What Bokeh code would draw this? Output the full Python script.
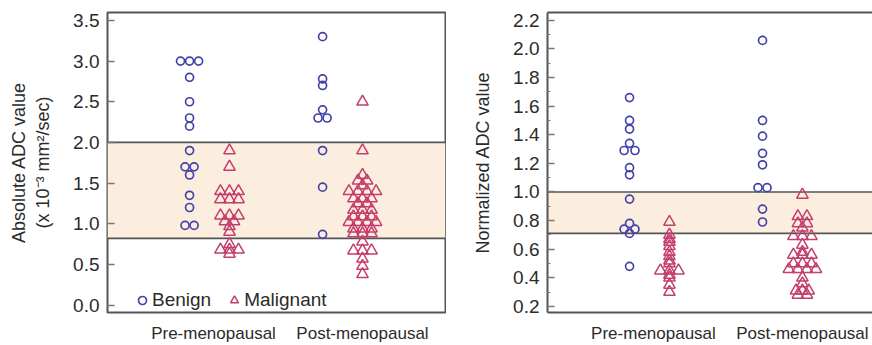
from bokeh.plotting import figure
from bokeh.layouts import row
from bokeh.models import (BoxAnnotation, Span, Legend, LegendItem, FixedTicker,
                          PrintfTickFormatter, LinearAxis, ColumnDataSource, Range1d)
from bokeh.embed import file_html
from bokeh.resources import INLINE

# ---------------- data ----------------
groups = ["Pre-menopausal", "Post-menopausal"]
series_names = ["Benign", "Malignant"]

# Absolute ADC value (x 10^-3 mm2/sec)
abs_pre_benign = [3.0, 3.0, 3.0, 2.8, 2.5, 2.3, 2.2, 1.9, 1.7, 1.7, 1.6, 1.35, 1.2, 0.98, 0.98]
abs_pre_benign_slot = [-1, 0, 1, 0, 0, 0, 0, 0, -0.5, 0.5, 0, 0, 0, -0.5, 0.5]
abs_pre_malig = [1.9, 1.7, 1.4, 1.4, 1.4, 1.3, 1.3, 1.3, 1.1, 1.1, 1.1, 1.03, 1.03, 0.97,
                 0.9, 0.75, 0.68, 0.68, 0.68, 0.63]
abs_pre_malig_slot = [0, 0, -1, 0, 1, -1, 0, 1, -1, 0, 1, -0.5, 0.5, 0, 0, 0, -1, 0, 1, 0]
abs_post_benign = [3.3, 2.78, 2.7, 2.4, 2.3, 2.3, 1.9, 1.45, 0.87]
abs_post_benign_slot = [0, 0, 0, 0, -0.5, 0.5, 0, 0, 0]
abs_post_malig = [2.5, 1.9, 1.6, 1.53, 1.53, 1.47, 1.4, 1.4, 1.4, 1.4, 1.31, 1.31, 1.31,
                  1.25, 1.25, 1.17, 1.17, 1.17, 1.09, 1.09, 1.09, 1.02, 1.02, 1.02, 1.02,
                  0.94, 0.94, 0.94, 0.88, 0.88, 0.88, 0.78, 0.67, 0.67, 0.67, 0.57, 0.48, 0.38]
abs_post_malig_slot = [0, 0, 0, -0.5, 0.5, 0, -1.5, -0.5, 0.5, 1.5, -1, 0, 1, -0.5, 0.5,
                       -1, 0, 1, -1, 0, 1, -1.5, -0.5, 0.5, 1.5, -1, 0, 1, -1, 0, 1,
                       0, -1, 0, 1, 0, 0, 0]
abs_band = [0.82, 2.0]
abs_ticks = [0.0, 0.5, 1.0, 1.5, 2.0, 2.5, 3.0, 3.5]

# Normalized ADC value
norm_pre_benign = [1.66, 1.50, 1.44, 1.34, 1.29, 1.29, 1.17, 1.12, 0.95, 0.78, 0.74, 0.74, 0.71, 0.48]
norm_pre_benign_slot = [0, 0, 0, 0, -0.6, 0.6, 0, 0, 0, 0, -0.6, 0.6, 0, 0]
norm_pre_malig = [0.79, 0.70, 0.67, 0.65, 0.62, 0.58, 0.55, 0.52, 0.50, 0.45, 0.45, 0.45,
                  0.42, 0.40, 0.35, 0.30]
norm_pre_malig_slot = [0, 0, 0, 0, 0, 0, 0, 0, 0, -1, 0, 1, 0, 0, 0, 0]
norm_post_benign = [2.06, 1.50, 1.39, 1.27, 1.19, 1.03, 1.03, 0.88, 0.79]
norm_post_benign_slot = [0, 0, 0, 0, 0, -0.5, 0.5, 0, 0]
norm_post_malig = [0.98, 0.83, 0.83, 0.78, 0.78, 0.75, 0.69, 0.69, 0.69, 0.63, 0.58,
                   0.56, 0.56, 0.56, 0.50, 0.50, 0.50, 0.46, 0.46, 0.46, 0.46, 0.40,
                   0.36, 0.31, 0.31, 0.31, 0.28, 0.28]
norm_post_malig_slot = [0, -0.5, 0.5, -0.5, 0.5, 0, -1, 0, 1, 0, 0, -1, 0, 1, -1, 0, 1,
                        -1.5, -0.5, 0.5, 1.5, 0, 0, -0.7, 0, 0.7, -0.5, 0.5]
norm_band = [0.71, 1.0]
norm_ticks = [0.2, 0.4, 0.6, 0.8, 1.0, 1.2, 1.4, 1.6, 1.8, 2.0, 2.2]
norm_minor = [0.3, 0.5, 0.7, 0.9, 1.1, 1.3, 1.5, 1.7, 1.9, 2.1]

# ---------------- style ----------------
FONT = "Liberation Sans"
TXT = "#2b2b2b"
FRAME = "#555555"
BLUE = "#4343ab"
RED = "#c43f6e"
BAND = "#fbeedf"
SERIES_OFF = [-0.15, 0.15]
SLOT = 0.068
LABEL_POS = [1.03, 2.15]


def xpos(gi, si, slots):
    return [gi + 1 + SERIES_OFF[si] + s * SLOT for s in slots]


def make_panel(width, border_left, x_end, y_rng, ylabel, ticks, minor, band,
               pre_b, pre_bs, pre_m, pre_ms, post_b, post_bs, post_m, post_ms,
               outline, legend):
    p = figure(width=width, height=345, output_backend="svg", toolbar_location=None,
               x_range=Range1d(0.233, x_end), y_range=Range1d(*y_rng),
               min_border_left=border_left, min_border_right=1 if outline else 0,
               min_border_top=12, min_border_bottom=0)
    p.grid.visible = False
    p.background_fill_color = "white"
    p.border_fill_color = "white"
    if outline:
        p.outline_line_color = FRAME
        p.outline_line_width = 2
    else:
        p.outline_line_color = None

    p.add_layout(BoxAnnotation(bottom=band[0], top=band[1], fill_color=BAND,
                               fill_alpha=1, line_color=None, level="underlay"))
    for v in band:
        p.add_layout(Span(location=v, dimension="width", line_color=FRAME,
                          line_width=1.6, level="underlay"))

    src_b = ColumnDataSource(dict(x=xpos(0, 0, pre_bs) + xpos(1, 0, post_bs),
                                  y=pre_b + post_b))
    src_m = ColumnDataSource(dict(x=xpos(0, 1, pre_ms) + xpos(1, 1, post_ms),
                                  y=pre_m + post_m))
    rb = p.scatter("x", "y", source=src_b, marker="circle", size=8,
                   fill_color=None, line_color=BLUE, line_width=1.7)
    rm = p.scatter("x", "y", source=src_m, marker="triangle", size=11.5,
                   fill_color=None, line_color=RED, line_width=1.5)

    ya = p.yaxis[0]
    ya.ticker = FixedTicker(ticks=ticks, minor_ticks=minor)
    ya.formatter = PrintfTickFormatter(format="%.1f")
    ya.major_tick_in = 7
    ya.major_tick_out = 0
    ya.minor_tick_in = 3 if minor else 0
    ya.minor_tick_out = 0
    ya.major_tick_line_color = "#777777"
    ya.major_tick_line_width = 1.5
    ya.minor_tick_line_color = "#777777"
    ya.minor_tick_line_width = 1.2
    ya.major_label_text_font = FONT
    ya.major_label_text_font_size = "19px"
    ya.major_label_text_color = TXT
    ya.major_label_standoff = 8
    ya.axis_label = ylabel
    ya.axis_label_text_font = FONT
    ya.axis_label_text_font_size = "18px"
    ya.axis_label_text_font_style = "normal"
    ya.axis_label_text_color = TXT
    ya.axis_label_standoff = 17
    ya.axis_line_color = None if outline else FRAME
    ya.axis_line_width = 2

    xa = p.xaxis[0]
    xa.ticker = FixedTicker(ticks=LABEL_POS)
    xa.major_label_overrides = {LABEL_POS[0]: groups[0], LABEL_POS[1]: groups[1]}
    xa.major_tick_line_color = None
    xa.minor_tick_line_color = None
    xa.major_tick_in = 0
    xa.major_tick_out = 0
    xa.minor_tick_in = 0
    xa.minor_tick_out = 0
    xa.major_label_text_font = FONT
    xa.major_label_text_font_size = "17px"
    xa.major_label_text_color = TXT
    xa.major_label_standoff = 11
    xa.axis_line_color = None if outline else FRAME
    xa.axis_line_width = 2

    if not outline:
        top = LinearAxis(ticker=FixedTicker(ticks=[]), major_tick_line_color=None,
                         minor_tick_line_color=None, major_tick_in=0, major_tick_out=0,
                         minor_tick_in=0, minor_tick_out=0, major_label_standoff=0,
                         axis_line_color=FRAME, axis_line_width=2)
        p.add_layout(top, "above")

    if legend:
        lg = Legend(items=[LegendItem(label=series_names[0], renderers=[rb]),
                           LegendItem(label=series_names[1], renderers=[rm])],
                    location=(25, 1), orientation="horizontal",
                    label_text_font=FONT, label_text_font_size="19px",
                    label_text_color=TXT, glyph_width=20, glyph_height=20,
                    label_standoff=0, spacing=13, padding=0, margin=0,
                    border_line_color=None, background_fill_alpha=0)
        p.add_layout(lg)
    return p


p1 = make_panel(446, 107, 2.774, (-0.091, 3.597),
                "Absolute ADC value\n(x 10\u207b\u00b3 mm\u00b2/sec)",
                abs_ticks, [], abs_band,
                abs_pre_benign, abs_pre_benign_slot, abs_pre_malig, abs_pre_malig_slot,
                abs_post_benign, abs_post_benign_slot, abs_post_malig, abs_post_malig_slot,
                outline=True, legend=True)

p2 = make_panel(426, 101, 2.677, (0.157, 2.255), "Normalized ADC value",
                norm_ticks, norm_minor, norm_band,
                norm_pre_benign, norm_pre_benign_slot, norm_pre_malig, norm_pre_malig_slot,
                norm_post_benign, norm_post_benign_slot, norm_post_malig, norm_post_malig_slot,
                outline=False, legend=False)

layout = row(p1, p2)
open("out.html", "w").write(file_html(layout, INLINE))
